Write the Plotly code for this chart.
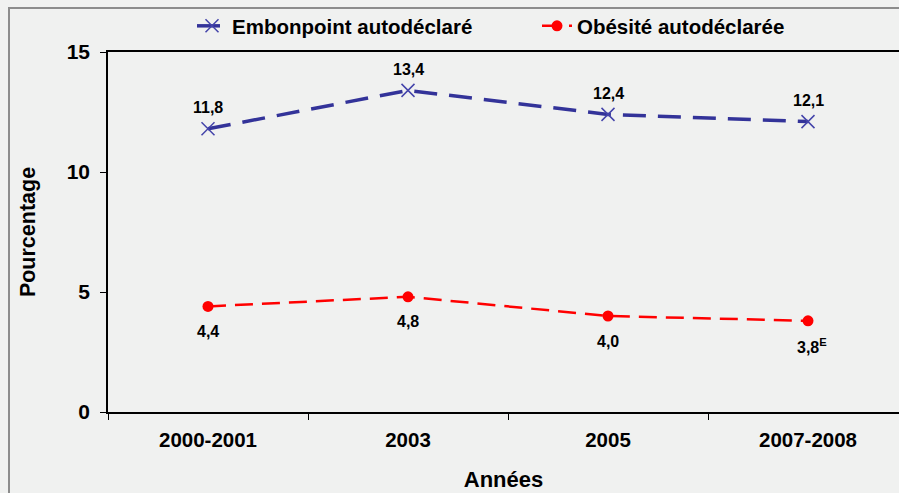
import plotly.graph_objects as go

# Données
annees = ["2000-2001", "2003", "2005", "2007-2008"]
embonpoint = [11.8, 13.4, 12.4, 12.1]
obesite = [4.4, 4.8, 4.0, 3.8]
labels_embonpoint = ["11,8", "13,4", "12,4", "12,1"]
labels_obesite = ["4,4", "4,8", "4,0", "3,8<sup>E</sup>"]

FONT = "Liberation Sans, Arial, sans-serif"
BLEU = "#333399"
ROUGE = "#FF0000"
FOND = "#F0F1F0"

fig = go.Figure()
fig.add_trace(go.Scatter(
    x=annees, y=embonpoint, name="Embonpoint autodéclaré", mode="lines+markers",
    line=dict(color=BLEU, width=3.5, dash="23px,12px"),
    marker=dict(symbol="x-thin", size=13, line=dict(color="#4444AA", width=1.5)),
))
fig.add_trace(go.Scatter(
    x=annees, y=obesite, name="Obésité autodéclarée", mode="lines+markers",
    line=dict(color=ROUGE, width=2.5, dash="18px,9px"),
    marker=dict(symbol="circle", size=11, color=ROUGE),
))

# étiquettes de données (x = indice de catégorie, "2003" serait lu comme un nombre)
for i, (v, t) in enumerate(zip(embonpoint, labels_embonpoint)):
    fig.add_annotation(x=i, y=v, text=t, showarrow=False, yshift=21,
                       font=dict(family=FONT, size=16, color="black", weight="bold"))
for i, (v, t) in enumerate(zip(obesite, labels_obesite)):
    fig.add_annotation(x=i, y=v, text=t, showarrow=False, yshift=-25,
                       xshift=4 if "sup" in t else 0,
                       font=dict(family=FONT, size=16, color="black", weight="bold"))

# cadre extérieur
fig.add_shape(type="rect", xref="paper", yref="paper",
              x0=(9 - 108) / 791, x1=1.2, y0=-0.5, y1=(412 - 8) / 360,
              line=dict(color="#8C8C8C", width=2), layer="below")

fig.update_layout(
    width=899, height=493,
    margin=dict(l=108, r=0, t=52, b=81),
    paper_bgcolor=FOND, plot_bgcolor=FOND,
    font=dict(family=FONT, color="black"),
    showlegend=True,
    legend=dict(orientation="h", x=(192 - 108) / 791, xanchor="left",
                y=1 + (52 - 26) / 360, yanchor="middle",
                bgcolor="rgba(0,0,0,0)", entrywidth=300, entrywidthmode="pixels",
                font=dict(family=FONT, size=20.5, weight="bold")),
    xaxis=dict(
        type="category", range=[-0.5, 3.455], tickson="boundaries",
        ticks="outside", ticklen=6, tickcolor="black",
        showline=True, linecolor="black", linewidth=1.5, mirror=True,
        showgrid=False, zeroline=False,
        tickfont=dict(family=FONT, size=20.5, weight="bold"),
        ticklabelstandoff=9,
        title=dict(text="Années", standoff=21,
                   font=dict(family=FONT, size=22, weight="bold")),
    ),
    yaxis=dict(
        range=[0, 15], tickvals=[0, 5, 10, 15],
        ticks="outside", ticklen=6, tickcolor="black",
        showline=True, linecolor="black", linewidth=1.5,
        showgrid=False, zeroline=False,
        tickfont=dict(family=FONT, size=21, weight="bold"),
        ticklabelstandoff=6,
        title=dict(text="Pourcentage", standoff=25,
                   font=dict(family=FONT, size=21.5, weight="bold")),
    ),
)

# pas de marge autour du graphique dans la page
fig.write_html("out.html", config={"displayModeBar": False},
               post_script="document.body.style.margin='0';"
               "document.body.style.background='#F0F1F0';")
